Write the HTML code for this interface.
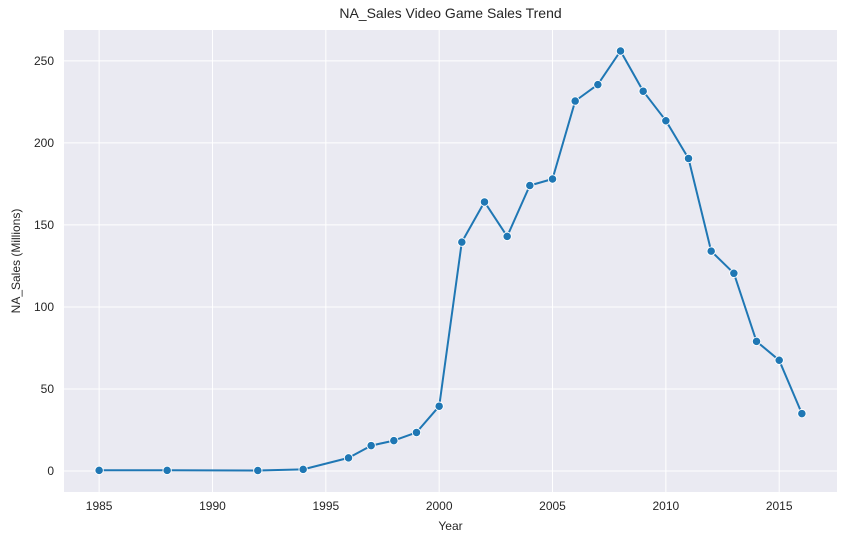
<!DOCTYPE html>
<html><head><meta charset="utf-8">
<style>
html,body{margin:0;padding:0;background:#fff;}
svg{display:block;font-family:"Liberation Sans","DejaVu Sans",sans-serif;}
</style></head>
<body>
<svg id="chart" width="847" height="545"></svg>
<script>
const years = [1985,1988,1992,1994,1996,1997,1998,1999,2000,2001,2002,2003,2004,2005,2006,2007,2008,2009,2010,2011,2012,2013,2014,2015,2016];
const sales = [0.4,0.4,0.3,1,8,15.5,18.5,23.5,39.5,139.5,164,143,174,178,225.5,235.5,256,231.5,213.5,190.5,134,120.5,79,67.5,35];
const xTicks = [1985,1990,1995,2000,2005,2010,2015];
const yTicks = [0,50,100,150,200,250];

const NS="http://www.w3.org/2000/svg";
const svg=document.getElementById('chart');
const L=64,R=837,T=30,B=492;
const xMin=1983.45,xMax=2017.55,yMin=-12.8,yMax=268.8;
function x(v){return L+(v-xMin)/(xMax-xMin)*(R-L);}
function y(v){return B-(v-yMin)/(yMax-yMin)*(B-T);}
function mk(tag,attrs,parent){const e=document.createElementNS(NS,tag);for(const k in attrs)e.setAttribute(k,attrs[k]);(parent||svg).appendChild(e);return e;}

const bg=mk('rect',{x:L,y:T,width:R-L,height:B-T,fill:'#eaeaf2'});



xTicks.forEach(t=>{
  const g=mk('line',{x1:x(t),x2:x(t),y1:T,y2:B,stroke:'#fff','stroke-width':1});
  
  
  const l=mk('text',{x:x(t),y:B+18,'text-anchor':'middle','font-size':12,fill:'#262626'});
  l.textContent=t;
  
  
});
yTicks.forEach(t=>{
  const g=mk('line',{x1:L,x2:R,y1:y(t),y2:y(t),stroke:'#fff','stroke-width':1});
  
  
  const l=mk('text',{x:L-10,y:y(t)+4,'text-anchor':'end','font-size':12,fill:'#262626'});
  l.textContent=t;
  
  
});

const pts=years.map((yr,i)=>x(yr).toFixed(1)+','+y(sales[i]).toFixed(1)).join(' ');
const line=mk('polyline',{points:pts,fill:'none',stroke:'#1f77b4','stroke-width':2,'stroke-linejoin':'round'});


years.forEach((yr,i)=>{
  const c=mk('circle',{cx:x(yr),cy:y(sales[i]),r:4.2,fill:'#1f77b4',stroke:'#fff','stroke-width':0.9});
  
  
});

const title=mk('text',{x:(L+R)/2,y:18,'text-anchor':'middle','font-size':14,fill:'#262626'});
title.textContent='NA_Sales Video Game Sales Trend';


const xt=mk('text',{x:(L+R)/2,y:530,'text-anchor':'middle','font-size':12,fill:'#262626'});
xt.textContent='Year';


const yt=mk('text',{x:0,y:0,'text-anchor':'middle','font-size':12,fill:'#262626',transform:`translate(20,${(T+B)/2}) rotate(-90)`});
yt.textContent='NA_Sales (Millions)';


</script>
</body></html>
